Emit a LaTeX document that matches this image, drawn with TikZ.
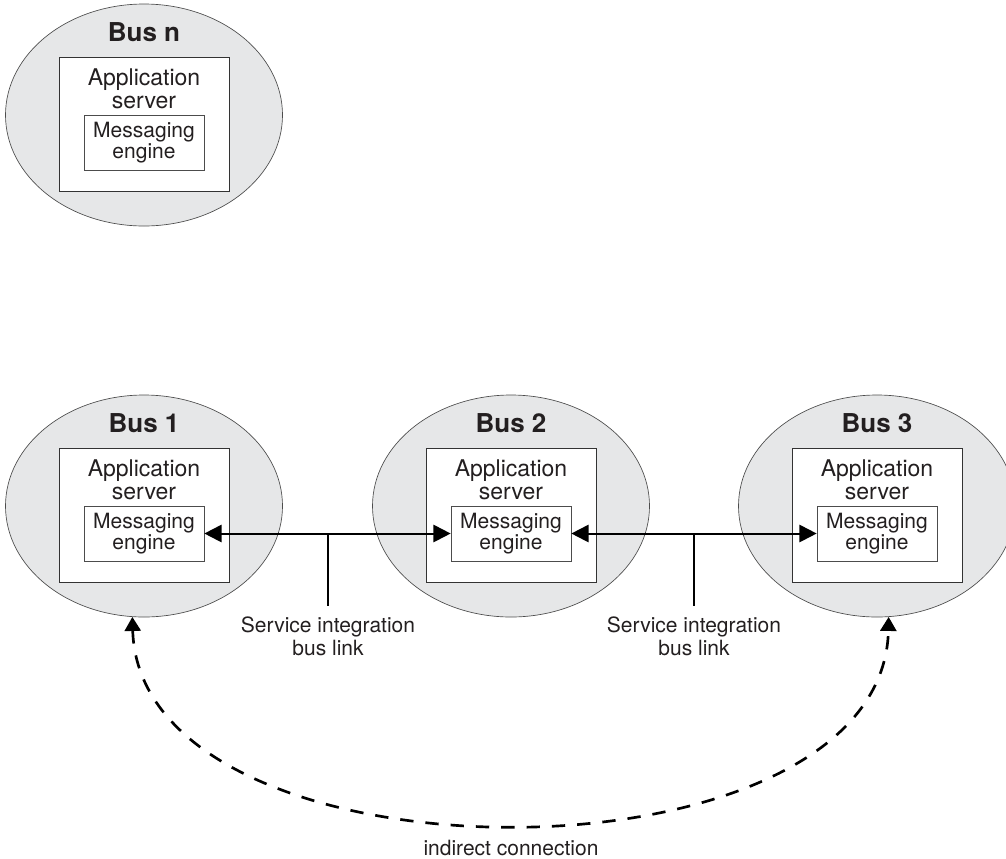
\documentclass[tikz,border=0pt]{standalone}
\usepackage{fontspec}
\setmainfont{TeX Gyre Heros}
\usetikzlibrary{shapes.geometric,arrows.meta,positioning}

\definecolor{busgray}{RGB}{230,231,232}
\definecolor{ink}{RGB}{35,31,32}

\tikzset{
  bus/.style={ellipse, draw=black!70, line width=0.5pt, fill=busgray,
    minimum width=207.75pt, minimum height=166.5pt, inner sep=0pt},
  busname/.style={font=\fontsize{19.5pt}{22pt}\selectfont\bfseries, text=ink,
    inner sep=0pt},
  appbox/.style={draw=black!80, line width=0.6pt, fill=white,
    minimum width=127.5pt, minimum height=100.5pt, inner sep=0pt},
  apptext/.style={font=\fontsize{17.25pt}{17.5pt}\selectfont, align=center,
    text=ink, inner sep=0pt},
  mebox/.style={draw=black!70, line width=0.5pt, fill=white,
    minimum width=90pt, minimum height=41.25pt, inner sep=0pt, align=center,
    font=\fontsize{15.75pt}{15.5pt}\selectfont, text=ink},
  buslink/.style={line width=1.5pt,
    {Triangle[length=13pt,width=13pt]}-{Triangle[length=13pt,width=13pt]}},
  stem/.style={line width=1.5pt},
  lbl/.style={font=\fontsize{15.75pt}{17.5pt}\selectfont, align=center,
    text=ink},
  indirect/.style={line width=2pt, dash pattern=on 10pt off 9pt,
    {Triangle[length=10.5pt,width=12pt]}-{Triangle[length=10.5pt,width=12pt]}}
}

\begin{document}
\begin{tikzpicture}[x=0.75pt, y=-0.75pt]
\clip (0,0) rectangle (1006,858);

% bus n (alone)
\node[bus] (busn) at (144,115) {};
\node[appbox] (asn) at (144,124) {};
\node[busname, above=11pt of asn.north] (namen) {Bus n};
\node[apptext, below=9pt of asn.north] (atn) {Application\\server};
\node[mebox] (men) at (144,142.5) {Messaging\\engine};

% bus 1
\node[bus] (bus1) at (144,506) {};
\node[appbox] (as1) at (144,515) {};
\node[busname, above=11pt of as1.north] (name1) {Bus 1};
\node[apptext, below=9pt of as1.north] (at1) {Application\\server};
\node[mebox] (me1) at (144,533.5) {Messaging\\engine};

% bus 2
\node[bus] (bus2) at (511,506) {};
\node[appbox] (as2) at (511,515) {};
\node[busname, above=11pt of as2.north] (name2) {Bus 2};
\node[apptext, below=9pt of as2.north] (at2) {Application\\server};
\node[mebox] (me2) at (511,533.5) {Messaging\\engine};

% bus 3
\node[bus] (bus3) at (877,506) {};
\node[appbox] (as3) at (877,515) {};
\node[busname, above=11pt of as3.north] (name3) {Bus 3};
\node[apptext, below=9pt of as3.north] (at3) {Application\\server};
\node[mebox] (me3) at (877,533.5) {Messaging\\engine};

% bus links
\draw[buslink] (me1.east) -- coordinate (j1) (me2.west);
\draw[buslink] (me2.east) -- coordinate (j2) (me3.west);
\node[lbl, anchor=north, inner ysep=8pt] (sib1) at (328,606)
  {Service integration\\bus link};
\node[lbl, anchor=north, inner ysep=8pt] (sib2) at (694,606)
  {Service integration\\bus link};
\draw[stem] (j1) -- (j1 |- sib1.north);
\draw[stem] (j2) -- (j2 |- sib2.north);

% indirect connection
\draw[indirect] (bus1.264) .. controls (140,893) and (883,893) .. (bus3.276);
\node[lbl, anchor=base] (ic) at (511,855) {indirect connection};
\end{tikzpicture}
\end{document}
